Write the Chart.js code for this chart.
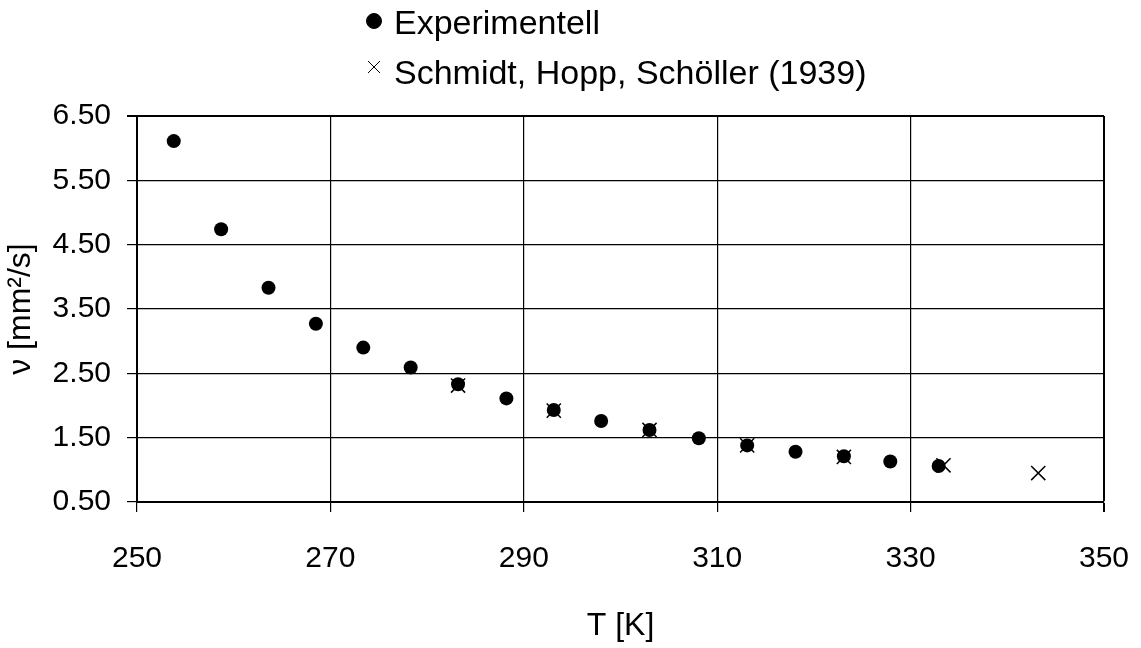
<!DOCTYPE html>
<html>
<head>
<meta charset="utf-8">
<script src="https://cdn.jsdelivr.net/npm/chart.js@4"></script>
<style>
  body { margin: 0; background: #fff; }
  #wrap { width: 1141px; height: 648px; }
</style>
</head>
<body>
<div id="wrap"><canvas id="myChart"></canvas></div>
<script>
// measured kinematic viscosity
const tempExp = [253.8, 258.7, 263.6, 268.5, 273.4, 278.3, 283.2, 288.2, 293.1, 298.0, 303.0, 308.1, 313.1, 318.1, 323.1, 327.9, 332.9];
const nuExp = [6.11, 4.74, 3.83, 3.27, 2.90, 2.59, 2.33, 2.11, 1.93, 1.76, 1.62, 1.49, 1.38, 1.28, 1.21, 1.13, 1.06];

// literature values
const tempLit = [283.2, 293.1, 303.0, 313.1, 323.1, 333.4, 343.2];
const nuLit = [2.31, 1.92, 1.62, 1.38, 1.20, 1.07, 0.95];

const seriesNames = ['Experimentell', 'Schmidt, Hopp, Schöller (1939)'];

function toPoints(xs, ys) {
  return xs.map((x, i) => ({x: x, y: ys[i]}));
}

const fontFamily = '"Liberation Sans", Arial, sans-serif';
Chart.defaults.font.family = fontFamily;
Chart.defaults.color = '#000000';

// legend as two stacked rows above the plot
const legendRows = {
  id: 'legendRows',
  afterDraw(chart) {
    const ctx = chart.ctx;
    const rows = [
      {markY: 21, textY: 25, radius: 7.5},
      {markY: 67, textY: 75, radius: 8.5}
    ];
    ctx.save();
    ctx.fillStyle = '#000';
    ctx.strokeStyle = '#000';
    ctx.font = '34px ' + fontFamily;
    ctx.textBaseline = 'middle';
    ctx.textAlign = 'left';
    chart.data.datasets.forEach((ds, i) => {
      const r = rows[i];
      Chart.helpers.drawPoint(ctx, {
        pointStyle: ds.pointStyle, radius: r.radius, borderWidth: 1.3, rotation: 0
      }, 374, r.markY);
      ctx.fillText(ds.label, 394, r.textY);
    });
    ctx.restore();
  }
};

var ctx = document.getElementById('myChart');
var myChart = new Chart(ctx, {
  type: 'scatter',
  data: {
    datasets: [{
      label: seriesNames[0],
      data: toPoints(tempExp, nuExp),
      pointStyle: 'circle',
      pointRadius: 7,
      pointBackgroundColor: '#000',
      pointBorderColor: '#000',
      pointBorderWidth: 0
    }, {
      label: seriesNames[1],
      data: toPoints(tempLit, nuLit),
      pointStyle: 'crossRot',
      pointRadius: 10,
      pointBorderColor: '#000',
      pointBorderWidth: 1.5
    }]
  },
  options: {
    responsive: true,
    maintainAspectRatio: false,
    animation: false,
    layout: { padding: { top: 116, right: 37, bottom: 0, left: 0 } },
    plugins: {
      legend: { display: false },
      tooltip: { enabled: false }
    },
    scales: {
      x: {
        type: 'linear',
        min: 250,
        max: 350,
        afterFit: function(scale) {
          scale.height = 146;
          scale.paddingLeft = 0;
          scale.paddingRight = 0;
        },
        ticks: {
          stepSize: 20,
          padding: 29,
          font: { size: 30 }
        },
        grid: {
          color: '#000',
          lineWidth: (c) => (c.tick && c.tick.value === 350 ? 2 : 1.2),
          tickLength: 10
        },
        border: { color: '#000', width: 2 },
        title: {
          display: true,
          text: 'T [K]',
          font: { size: 32 },
          padding: { top: 0, bottom: 3 }
        }
      },
      y: {
        type: 'linear',
        min: 0.5,
        max: 6.5,
        afterFit: function(scale) {
          scale.width = 137;
          scale.paddingTop = 0;
          scale.paddingBottom = 0;
        },
        ticks: {
          stepSize: 1,
          padding: 16,
          font: { size: 30 },
          callback: (v) => v.toFixed(2)
        },
        grid: {
          color: '#000',
          lineWidth: (c) => (c.tick && c.tick.value === 6.5 ? 2 : 1.2),
          tickLength: 10
        },
        border: { color: '#000', width: 2 },
        title: {
          display: true,
          text: 'ν [mm²/s]',
          font: { size: 32 },
          padding: { top: 2, bottom: 0 }
        }
      }
    }
  },
  plugins: [legendRows]
});
</script>
</body>
</html>
